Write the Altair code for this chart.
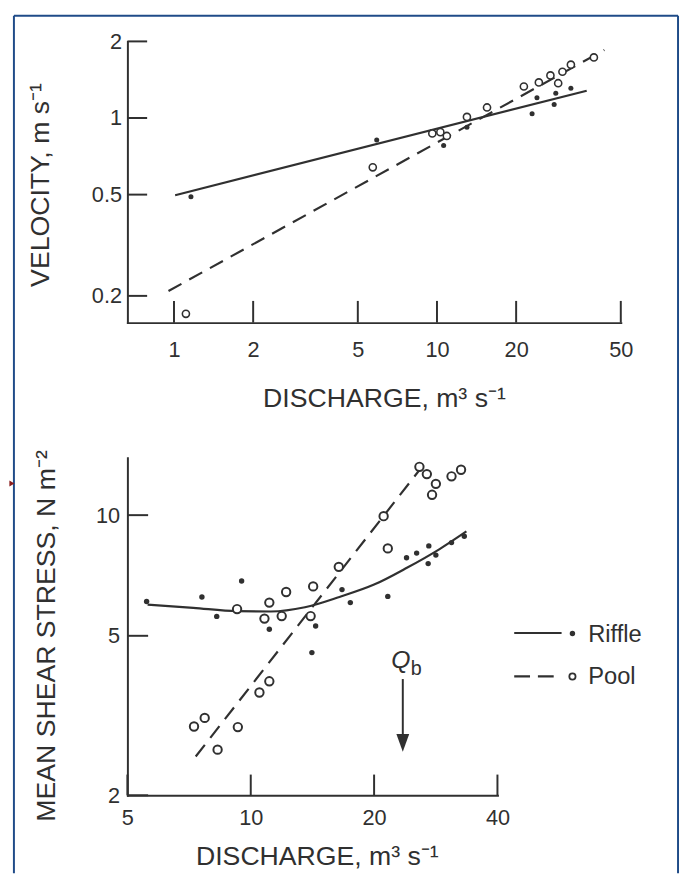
import altair as alt
import pandas as pd

# ---------------- top panel: velocity vs discharge ----------------
top_q_ticks = [1, 2, 5, 10, 20, 50]
top_v_ticks = [0.2, 0.5, 1, 2]

riffle_top_q = [1.16, 5.9, 10.6, 13.0, 23.0, 24.0, 27.9, 28.3, 32.3]
riffle_top_v = [0.49, 0.82, 0.78, 0.92, 1.04, 1.20, 1.13, 1.25, 1.31]
pool_top_q = [1.11, 5.7, 9.6, 10.3, 10.9, 13.0, 15.5, 21.4, 24.4, 27.0, 28.9, 30.0, 32.3, 39.5]
pool_top_v = [0.17, 0.64, 0.87, 0.88, 0.85, 1.01, 1.10, 1.33, 1.38, 1.47, 1.37, 1.52, 1.62, 1.73]
riffle_top_fit_q = [1.01, 37.1]
riffle_top_fit_v = [0.497, 1.28]
pool_top_fit_q = [0.953, 43.3]
pool_top_fit_v = [0.209, 1.85]

# ---------------- bottom panel: shear stress vs discharge ----------------
bot_q_ticks = [5, 10, 20, 40]
bot_s_ticks = [2, 5, 10]

riffle_bot_q = [5.57, 7.6, 8.26, 9.5, 11.1, 14.1, 14.4, 16.7, 17.5, 21.6, 24.0, 25.4, 27.2, 27.1, 28.3, 30.9, 33.2]
riffle_bot_s = [6.09, 6.25, 5.59, 6.85, 5.19, 4.54, 5.29, 6.52, 6.05, 6.27, 7.83, 8.04, 8.38, 7.57, 7.95, 8.54, 8.86]
pool_bot_q = [9.26, 11.1, 12.2, 10.8, 11.9, 14.2, 14.0, 16.4, 21.1, 21.6, 25.8, 26.9, 28.3, 27.7, 30.9, 32.6,
              11.1, 10.5, 7.72, 7.27, 9.3, 8.3]
pool_bot_s = [5.83, 6.05, 6.43, 5.52, 5.60, 6.64, 5.60, 7.43, 9.94, 8.26, 13.2, 12.66, 11.97, 11.24, 12.5, 12.98,
              3.85, 3.61, 3.12, 2.97, 2.96, 2.60]
riffle_bot_curve_q = [5.6, 7.24, 9.26, 11.2, 13.56, 16.46, 20.0, 24.05, 28.9, 33.6]
riffle_bot_curve_s = [5.98, 5.87, 5.76, 5.75, 5.89, 6.25, 6.71, 7.39, 8.23, 9.11]
pool_bot_fit_q = [7.34, 26.4]
pool_bot_fit_s = [2.50, 13.35]

qb_q = [23.5]
qb_arrow_from = [3.9]
qb_arrow_to = [2.57]
qb_label_s = [4.15]

legend_labels = ["Riffle", "Pool"]

INK = "#303030"
FRAME = "#1f4b88"
MARKER_RED = "#8b1e1e"
FONT = "Liberation Sans"

TW, TH = 500, 285
BW, BH = 375, 342


def df(**cols):
    return pd.DataFrame(cols)


one = df(k=[0])

# ---------------- scales & axes ----------------
top_xs = alt.Scale(type="log", domain=[0.665, 50], nice=False)
top_ys = alt.Scale(type="log", domain=[0.157, 2], nice=False)
bot_xs = alt.Scale(type="log", domain=[5, 40], nice=False)
bot_ys = alt.Scale(type="log", domain=[2, 13.9], nice=False)

common_axis = dict(ticks=False, tickSize=0, domainColor=INK, domainWidth=2, domainCap="square",
                   labelColor=INK, labelFont=FONT, labelFontSize=22, labelOverlap=False,
                   grid=False, format="~g", titleFont=FONT, titleFontSize=27,
                   titleFontWeight="normal", titleColor=INK, titleAlign="center")

top_x_axis = alt.Axis(values=top_q_ticks, labelPadding=17, labelFlush=False,
                      title="DISCHARGE, m³ s⁻¹", titleX=260, titleY=85,
                      titleBaseline="alphabetic", **common_axis)
top_y_axis = alt.Axis(values=top_v_ticks, labelPadding=6,
                      title="VELOCITY, m s⁻¹", titleX=-88, titleY=145,
                      titleBaseline="middle", **common_axis)
bot_x_axis = alt.Axis(values=bot_q_ticks, labelPadding=13, labelFlush=False,
                      title="DISCHARGE, m³ s⁻¹", titleX=192, titleY=70,
                      titleBaseline="alphabetic", **common_axis)
bot_y_axis = alt.Axis(values=bot_s_ticks, labelPadding=8,
                      title="MEAN SHEAR STRESS, N m⁻²", titleX=-82, titleY=180,
                      titleBaseline="middle", **common_axis)

TX = alt.X("Q:Q", scale=top_xs, axis=top_x_axis)
TY = alt.Y("V:Q", scale=top_ys, axis=top_y_axis)
BX = alt.X("Q:Q", scale=bot_xs, axis=bot_x_axis)
BY = alt.Y("V:Q", scale=bot_ys, axis=bot_y_axis)

# ---------------- top panel layers ----------------
frame_left = alt.Chart(one).mark_rule(color=FRAME, strokeWidth=2).encode(
    x=alt.value(-115), y=alt.value(-26), y2=alt.value(843))
frame_top = alt.Chart(one).mark_rule(color=FRAME, strokeWidth=2).encode(
    x=alt.value(-115), x2=alt.value(558), y=alt.value(-26))
frame_right = alt.Chart(one).mark_rule(color=FRAME, strokeWidth=2).encode(
    x=alt.value(558), y=alt.value(-26), y2=alt.value(843))
side_marker = alt.Chart(one).mark_point(shape="triangle-right", filled=True, color=MARKER_RED,
                                        size=36, opacity=1).encode(
    x=alt.value(-117), y=alt.value(448))

top_ytick = alt.Chart(df(V=top_v_ticks)).mark_rule(color=INK, strokeWidth=2).encode(
    y=TY, x=alt.value(0), x2=alt.value(20))
top_xtick = alt.Chart(df(Q=top_q_ticks)).mark_rule(color=INK, strokeWidth=2).encode(
    x=TX, y=alt.value(TH), y2=alt.value(TH - 22))
top_riffle_line = alt.Chart(df(Q=riffle_top_fit_q, V=riffle_top_fit_v)).mark_line(
    color=INK, strokeWidth=2.2).encode(x=TX, y=TY)
top_pool_line = alt.Chart(df(Q=pool_top_fit_q, V=pool_top_fit_v)).mark_line(
    color=INK, strokeWidth=2.2, strokeDash=[15, 9]).encode(x=TX, y=TY)
top_riffle_pts = alt.Chart(df(Q=riffle_top_q, V=riffle_top_v)).mark_point(
    shape="circle", filled=True, color=INK, size=26, opacity=1).encode(x=TX, y=TY)
top_pool_pts = alt.Chart(df(Q=pool_top_q, V=pool_top_v)).mark_point(
    shape="circle", filled=True, fill="white", stroke=INK, strokeWidth=1.6,
    size=52, opacity=1).encode(x=TX, y=TY)

top = alt.layer(frame_left, frame_top, frame_right, side_marker, top_ytick, top_xtick,
                top_riffle_line, top_pool_line, top_riffle_pts, top_pool_pts
                ).properties(width=TW, height=TH)

# ---------------- bottom panel layers ----------------
bot_ytick = alt.Chart(df(V=bot_s_ticks)).mark_rule(color=INK, strokeWidth=2).encode(
    y=BY, x=alt.value(0), x2=alt.value(21))
bot_xtick = alt.Chart(df(Q=bot_q_ticks)).mark_rule(color=INK, strokeWidth=2).encode(
    x=BX, y=alt.value(BH), y2=alt.value(BH - 21))
bot_riffle_line = alt.Chart(df(Q=riffle_bot_curve_q, V=riffle_bot_curve_s)).mark_line(
    color=INK, strokeWidth=2.2, interpolate="monotone").encode(x=BX, y=BY)
bot_pool_line = alt.Chart(df(Q=pool_bot_fit_q, V=pool_bot_fit_s)).mark_line(
    color=INK, strokeWidth=2.2, strokeDash=[15, 9]).encode(x=BX, y=BY)
bot_riffle_pts = alt.Chart(df(Q=riffle_bot_q, V=riffle_bot_s)).mark_point(
    shape="circle", filled=True, color=INK, size=30, opacity=1).encode(x=BX, y=BY)
bot_pool_pts = alt.Chart(df(Q=pool_bot_q, V=pool_bot_s)).mark_point(
    shape="circle", filled=True, fill="white", stroke=INK, strokeWidth=2,
    size=72, opacity=1).encode(x=BX, y=BY)

qb_rule = alt.Chart(df(Q=qb_q, V=qb_arrow_from, V2=[qb_arrow_to[0] * 1.07])).mark_rule(
    color=INK, strokeWidth=2).encode(x=BX, y=BY, y2="V2:Q")
qb_head = alt.Chart(df(Q=qb_q, V=qb_arrow_to)).mark_point(
    shape="M-0.65,-1.8L0.65,-1.8L0,0Z", filled=True, color=INK, size=400, opacity=1
).encode(x=BX, y=BY)
qb_Q = alt.Chart(df(Q=qb_q, V=qb_label_s)).mark_text(
    text="Q", fontStyle="italic", fontSize=25, font=FONT, color=INK, align="center",
    baseline="alphabetic", dx=-2).encode(x=BX, y=BY)
qb_b = alt.Chart(df(Q=qb_q, V=qb_label_s)).mark_text(
    text="b", fontSize=20, font=FONT, color=INK, align="left",
    baseline="alphabetic", dx=8, dy=7).encode(x=BX, y=BY)

# legend (manual)
leg_r_line = alt.Chart(one).mark_rule(color=INK, strokeWidth=2.2).encode(
    x=alt.value(392), x2=alt.value(440), y=alt.value(177.5))
leg_r_dot = alt.Chart(one).mark_point(shape="circle", filled=True, color=INK, size=30,
                                      opacity=1).encode(x=alt.value(451), y=alt.value(178))
leg_r_txt = alt.Chart(one).mark_text(text=legend_labels[0], fontSize=24, font=FONT, color=INK,
                                     align="left", baseline="middle").encode(
    x=alt.value(467), y=alt.value(180))
leg_p_line = alt.Chart(one).mark_rule(color=INK, strokeWidth=2.2, strokeDash=[16, 8]).encode(
    x=alt.value(392), x2=alt.value(440), y=alt.value(221.5))
leg_p_dot = alt.Chart(one).mark_point(shape="circle", filled=True, fill="white", stroke=INK,
                                      strokeWidth=1.8, size=40, opacity=1).encode(
    x=alt.value(451), y=alt.value(221.5))
leg_p_txt = alt.Chart(one).mark_text(text=legend_labels[1], fontSize=24, font=FONT, color=INK,
                                     align="left", baseline="middle").encode(
    x=alt.value(467), y=alt.value(222))

bottom = alt.layer(bot_ytick, bot_xtick, bot_riffle_line, bot_pool_line, bot_riffle_pts,
                   bot_pool_pts, qb_rule, qb_head, qb_Q, qb_b,
                   leg_r_line, leg_r_dot, leg_r_txt, leg_p_line, leg_p_dot, leg_p_txt
                   ).properties(width=BW, height=BH)

chart = alt.vconcat(top, bottom, spacing=137, bounds="flush").properties(
    padding={"left": 0, "top": 0, "right": 0, "bottom": 0},
    background="white",
).configure(font=FONT).configure_view(stroke="transparent")

chart.save("out.html", embed_options={"renderer": "svg", "actions": False})
